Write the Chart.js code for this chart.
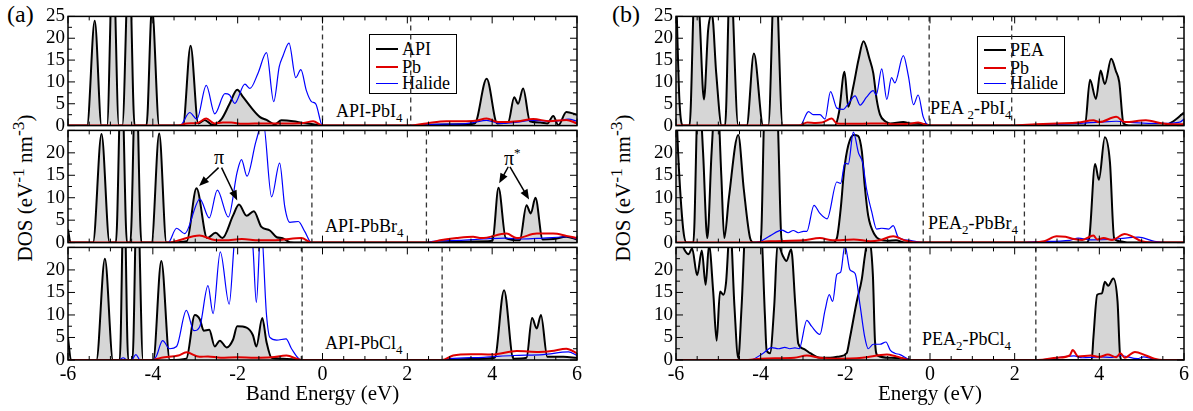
<!DOCTYPE html>
<html>
<head>
<meta charset="utf-8">
<script src="https://cdn.jsdelivr.net/npm/chart.js@4.4.0/dist/chart.umd.min.js"></script>
<style>
  body { margin: 0; background: #fff; }
  #fig { position: relative; width: 1193px; height: 411px; overflow: hidden; background: #fff;
         font-family: 'Liberation Serif', 'Times New Roman', serif; color: #000; }
  #fig canvas { position: absolute; }
  .txt { position: absolute; line-height: 1; white-space: nowrap; }
  .txt sub { font-size: 72%; vertical-align: -0.35em; line-height: 0; }
  .txt sup { font-size: 65%; vertical-align: 0.6em; line-height: 0; }
  .ytitle { position: absolute; white-space: nowrap; line-height: 1; font-size: 21px;
            transform: translate(-50%, -50%) rotate(-90deg); }
  .legend { position: absolute; border: 1px solid #000; background: #fff; box-sizing: border-box; }
  .legend .sw { position: absolute; left: 6px; width: 22px; }
  .legend .lt { position: absolute; left: 32px; font-size: 18px; line-height: 1; }
</style>
</head>
<body>
<div id="fig">
  <div class="txt" style="left:7px;top:2px;font-size:24px">(a)</div>
  <div class="txt" style="left:612px;top:2px;font-size:24px">(b)</div>
  <div class="ytitle" style="left:23px;top:188px">DOS (eV<sup>-1</sup> nm<sup>-3</sup>)</div>
  <div class="ytitle" style="left:621px;top:188px">DOS (eV<sup>-1</sup> nm<sup>-3</sup>)</div>

  <div class="txt" style="left:336px;top:102px;font-size:18px">API-PbI<sub>4</sub></div>
  <div class="txt" style="left:325px;top:217px;font-size:18px">API-PbBr<sub>4</sub></div>
  <div class="txt" style="left:325px;top:334px;font-size:18px">API-PbCl<sub>4</sub></div>
  <div class="txt" style="left:930px;top:99px;font-size:18px">PEA <sub>2</sub>-PbI<sub>4</sub></div>
  <div class="txt" style="left:928px;top:214px;font-size:18px">PEA<sub>2</sub>-PbBr<sub>4</sub></div>
  <div class="txt" style="left:922px;top:330px;font-size:18px">PEA<sub>2</sub>-PbCl<sub>4</sub></div>

  <div class="txt" style="left:214px;top:147px;font-size:20px">&pi;</div>
  <div class="txt" style="left:504px;top:148px;font-size:20px">&pi;<sup>*</sup></div>

  <div class="legend" style="left:369px;top:34px;width:88px;height:60px">
    <div class="sw" style="top:13px;border-top:2.5px solid #000"></div><div class="lt" style="top:5px">API</div>
    <div class="sw" style="top:31px;border-top:2.5px solid #e00000"></div><div class="lt" style="top:23px">Pb</div>
    <div class="sw" style="top:48px;border-top:1.5px solid #0000ff"></div><div class="lt" style="top:39px">Halide</div>
  </div>
  <div class="legend" style="left:977px;top:36px;width:88px;height:58px">
    <div class="sw" style="top:12px;border-top:2.5px solid #000"></div><div class="lt" style="top:4px">PEA</div>
    <div class="sw" style="top:30px;border-top:2.5px solid #e00000"></div><div class="lt" style="top:22px">Pb</div>
    <div class="sw" style="top:46px;border-top:1.5px solid #0000ff"></div><div class="lt" style="top:37px">Halide</div>
  </div>
</div>

<script>
// axis ranges and tick steps
const energyRange = [-6, 6];
const dosRange = [0, 25];
const energyStep = 2, energyMinor = 0.5;
const dosStep = 5, dosMinor = 2.5;

// ---------- (a) API-PbI4 ----------
const aI_org = [[-6,0],[-5.55,0],[-5.37,24],[-5.21,0],[-5.08,0],[-4.94,40],[-4.80,0],[-4.72,0],[-4.56,40],[-4.43,0],
  [-4.15,0],[-4.02,27],[-3.85,0],[-3.29,0],[-3.11,18.3],[-2.93,0.5],[-2.78,1.3],[-2.6,0.2],[-2.38,1.5],[-2.19,5],
  [-2.01,8.2],[-1.87,6.5],[-1.67,4],[-1.48,2],[-1.32,1.3],[-1.12,0.3],[-0.97,1.2],[-0.69,1.0],[-0.46,0.6],[-0.22,0.3],
  [0,0],[2.1,0],[2.6,0.2],[3.2,0.3],[3.59,0.5],[3.87,10.7],[4.12,0.5],[4.38,0.8],[4.52,6.5],[4.61,5],[4.73,8.5],
  [4.89,1.0],[5.13,0.7],[5.3,0.5],[5.44,2.2],[5.56,0.1],[5.75,3.1],[6,2.5]];
const aI_pb = [[-6,0],[-3.4,0],[-3.2,0.5],[-2.95,0.6],[-2.74,1.6],[-2.55,0.5],[-2.35,0.7],[-2.15,0.7],[-1.9,0.4],
  [-1.6,0.5],[-1.2,0.5],[-0.8,0.5],[-0.45,0.6],[-0.22,1.0],[0,0],[2.06,0],[2.45,0.5],[2.92,1.0],[3.3,1.0],[3.6,1.1],
  [3.87,1.6],[4.15,0.8],[4.6,1.0],[4.97,1.5],[5.35,1.0],[5.75,1.3],[6,0.5]];
const aI_hal = [[-6,0],[-3.36,0],[-3.13,3.0],[-2.96,1.5],[-2.74,9.2],[-2.54,2.7],[-2.30,7.3],[-2.19,7],[-2.07,5.1],
  [-1.83,9.5],[-1.71,8.5],[-1.52,12],[-1.32,16.7],[-1.15,5.5],[-1.02,13.5],[-0.93,16],[-0.79,18.9],[-0.63,11],
  [-0.51,12.8],[-0.38,8],[-0.26,5.5],[-0.16,5],[0,0],[2.06,0],[2.6,0.3],[3.3,0.4],[3.55,0.7],[3.87,1.2],[4.2,0.5],
  [4.6,0.8],[4.9,1.2],[5.5,1.0],[5.8,1.5],[6,1.0]];
const aI_gaps = [0, 2.08];

// ---------- (a) API-PbBr4 ----------
const aBr_org = [[-6,3],[-5.94,0],[-5.41,0],[-5.21,24.2],[-5.02,0],[-4.87,0],[-4.74,40],[-4.61,0],[-4.53,0],[-4.40,40],
  [-4.27,0],[-4.03,0],[-3.85,24.3],[-3.68,0],[-3.2,0.3],[-2.97,12.1],[-2.72,1],[-2.52,2.2],[-2.36,1],[-2.11,6],
  [-1.97,8.5],[-1.79,6],[-1.62,7],[-1.44,3.5],[-1.24,2.7],[-1.08,1.2],[-0.94,1],[-0.77,0.1],[-0.25,0],[2.45,0],
  [3.2,0.2],[3.9,0.3],[4.01,0.5],[4.15,12.2],[4.32,1],[4.65,0.5],[4.81,8.3],[4.91,6.5],[5.02,10],[5.19,0.7],
  [5.44,0.8],[5.75,1.3],[6,0.7]];
const aBr_pb = [[-6,0],[-3.6,0],[-3.4,0.5],[-2.9,1.6],[-2.6,0.7],[-2.3,0.5],[-1.9,0.8],[-1.5,0.5],[-1.0,0.6],
  [-0.5,1.0],[-0.25,0],[2.49,0],[2.77,0.5],[3.16,1.0],[3.55,1.3],[3.75,1.0],[4.34,2.0],[4.58,1.0],[5.05,2.0],
  [5.44,2.0],[5.75,1.5],[6,1.0]];
const aBr_hal = [[-6,0],[-3.64,0],[-3.44,3.2],[-3.25,2],[-2.89,9.7],[-2.67,5.5],[-2.48,11.7],[-2.22,5.7],[-2.01,15.8],
  [-1.91,18.5],[-1.78,14.8],[-1.57,22.5],[-1.40,27],[-1.2,10.2],[-1.01,17.7],[-0.89,8],[-0.77,4.5],[-0.57,4.7],
  [-0.42,2.5],[-0.26,0],[2.45,0],[2.6,0.3],[3.2,0.5],[3.8,0.8],[4.3,1.0],[4.7,0.8],[5.2,1.0],[5.8,1.3],[6,0.8]];
const aBr_gaps = [-0.25, 2.45];
// pi / pi* arrows: [E start, DOS start, E tip, DOS tip]
const aBr_arrows = [[-2.45,16.7,-2.91,12.6],[-2.38,16.7,-2.01,9.4],[4.38,16.9,4.165,13.2],[4.42,16.9,4.87,9.6]];

// ---------- (a) API-PbCl4 ----------
const aCl_org = [[-6,5],[-5.93,0],[-5.33,0],[-5.13,22.5],[-4.94,0],[-4.78,0],[-4.68,40],[-4.58,0],[-4.48,0],[-4.37,40],
  [-4.23,0],[-3.99,0],[-3.80,22],[-3.6,0],[-3.21,0.3],[-3.01,10],[-2.89,9],[-2.80,6.5],[-2.67,6.7],[-2.54,3],
  [-2.42,4.3],[-2.26,2.8],[-2.11,4.5],[-2.01,7.5],[-1.79,7.2],[-1.64,5.5],[-1.56,3],[-1.42,9.3],[-1.32,4],[-1.2,0.5],
  [-0.93,0.3],[-0.5,0],[2.82,0],[3.5,0.2],[4.06,0.5],[4.28,15.5],[4.5,0.3],[4.81,0.5],[4.94,9.3],[5.05,7],[5.15,10],
  [5.30,0.7],[5.68,0.7],[6,0.5]];
const aCl_pb = [[-6,0],[-4.0,0],[-3.8,0.5],[-3.4,1.0],[-3.21,1.7],[-2.9,0.7],[-2.7,0.8],[-2.4,0.5],[-2.0,0.6],
  [-1.6,0.5],[-1.2,0.6],[-0.85,1.0],[-0.5,0],[2.82,0],[3.08,1.0],[3.5,1.3],[4.0,1.2],[4.58,2.0],[5.1,1.8],[5.4,2.0],
  [5.75,2.5],[6,1.5]];
const aCl_hal = [[-6,0],[-4.8,0],[-4.7,0.5],[-4.6,0],[-4.5,0],[-4.4,1.2],[-4.3,0],[-3.99,0],[-3.91,1],[-3.77,4.3],
  [-3.60,2.5],[-3.44,3],[-3.21,11],[-3.03,6.5],[-2.89,7.5],[-2.70,16.5],[-2.58,10.3],[-2.41,24],[-2.20,12.4],
  [-2.07,27],[-1.91,32],[-1.72,30],[-1.64,25],[-1.56,12.8],[-1.45,30],[-1.32,10],[-1.24,5],[-1.08,4.4],[-0.86,4.7],
  [-0.73,2.5],[-0.5,0],[2.82,0],[3.0,0.3],[3.8,0.6],[4.5,1.0],[5.2,1.2],[5.8,1.8],[6,1.0]];
const aCl_gaps = [-0.48, 2.82];

// ---------- (b) PEA2-PbI4 ----------
const bI_org = [[-6,32],[-5.92,6],[-5.83,0],[-5.68,0],[-5.55,34],[-5.45,26],[-5.34,6],[-5.24,22],[-5.15,25.5],
  [-5.05,12],[-4.92,0],[-4.84,0],[-4.72,36],[-4.53,0],[-4.33,0],[-4.16,16.5],[-3.94,0],[-3.82,0],[-3.66,38],[-3.48,0],
  [-2.25,0],[-2.15,3],[-2.02,12.3],[-1.93,4.3],[-1.81,9],[-1.69,15],[-1.57,19.3],[-1.43,15.3],[-1.34,12],[-1.26,6],
  [-1.18,2.5],[-1.06,1],[-0.94,0.5],[-0.63,0.8],[-0.47,0.5],[-0.1,0.3],[0,0],[1.93,0],[3.66,0],[3.78,10.5],
  [3.92,6.1],[4.03,12.6],[4.13,9.5],[4.28,15.3],[4.39,12.5],[4.47,10],[4.57,0.5],[4.7,0],[5.5,0],[5.75,1],[6,3]];
const bI_pb = [[-6,0],[-3.1,0],[-2.9,0.7],[-2.7,0.6],[-2.55,0.7],[-2.32,1.6],[-2.2,0.5],[-1.8,0.4],[-1.4,0.5],
  [-1.1,0.5],[-0.9,0.3],[-0.5,0.4],[-0.28,0.7],[0,0],[1.95,0],[2.5,0.3],[3.0,0.5],[3.5,0.7],[3.86,1.2],[4.0,0.8],
  [4.4,2.0],[4.6,0.8],[5.1,1.2],[5.5,0.5],[5.9,0.3],[6,0.3]];
const bI_hal = [[-6,0],[-3.07,0],[-2.87,3.2],[-2.76,2.5],[-2.6,2.5],[-2.48,1.5],[-2.35,7.8],[-2.2,4],[-2.05,3.7],
  [-1.93,5],[-1.77,6.8],[-1.65,4.7],[-1.5,6.5],[-1.34,8],[-1.27,7],[-1.14,13],[-1.02,6],[-0.91,11],[-0.83,9.8],
  [-0.63,16],[-0.51,11.3],[-0.39,4.8],[-0.28,7],[-0.16,2],[-0.02,0],[1.93,0],[2.5,0.2],[3.5,0.5],[4.0,0.8],
  [4.4,1.0],[4.8,0.7],[5.5,0.5],[5.9,0.8],[6,1.5]];
const bI_gaps = [-0.02, 1.93];

// ---------- (b) PEA2-PbBr4 ----------
const bBr_org = [[-6,32],[-5.95,20],[-5.83,3],[-5.75,0],[-5.59,0],[-5.47,36],[-5.36,20],[-5.26,1],[-5.16,20],
  [-5.04,36],[-4.93,15],[-4.86,1],[-4.75,10],[-4.53,24],[-4.4,12],[-4.25,1],[-4.17,0],[-4.0,0],[-3.9,32],[-3.75,34],
  [-3.62,32],[-3.5,0],[-2.3,0],[-2.2,1],[-2.11,7.5],[-2.03,16],[-1.93,21.7],[-1.8,24],[-1.7,23.8],[-1.61,20.3],
  [-1.54,12.5],[-1.46,6],[-1.31,1.8],[-1.19,0.7],[-1.0,0.4],[-0.8,0.5],[-0.6,0],[2.23,0],[3.69,0],[3.76,1],
  [3.9,17.5],[3.99,14],[4.13,23.5],[4.25,18],[4.35,1],[4.49,0.3],[4.7,0],[6,0]];
const bBr_pb = [[-6,0],[-4.2,0],[-3.8,0.3],[-3.0,0.5],[-2.6,1.0],[-2.3,0.5],[-1.8,0.7],[-1.4,0.3],[-1.2,0.5],
  [-0.87,1.4],[-0.6,0.5],[-0.2,0],[2.3,0],[2.7,0.3],[2.99,1.4],[3.2,1.3],[3.4,0.8],[3.6,0.6],[3.86,1.6],[3.95,0.7],
  [4.1,1.0],[4.3,0.6],[4.6,1.9],[4.75,1.5],[5.0,0.3],[5.3,0],[6,0]];
const bBr_hal = [[-6,0],[-4.25,0],[-4.0,0.3],[-3.78,1.5],[-3.5,2.8],[-3.35,2.2],[-3.23,2.7],[-3.11,2.2],[-2.99,2.5],
  [-2.91,2.5],[-2.74,8.3],[-2.6,6.5],[-2.43,5.3],[-2.2,13.5],[-2.11,13.2],[-2.01,17.7],[-1.93,17.5],[-1.81,24.6],
  [-1.69,20],[-1.59,17.8],[-1.5,12],[-1.38,7],[-1.26,3],[-1.14,3.2],[-0.98,3],[-0.87,3.8],[-0.75,1.2],[-0.47,0.5],
  [-0.17,0],[2.23,0],[2.5,0.2],[3.3,0.5],[3.5,1.0],[3.8,0.6],[4.4,0.8],[4.92,1.2],[5.3,0.3],[5.6,0],[6,0]];
const bBr_gaps = [-0.16, 2.23];

// ---------- (b) PEA2-PbCl4 ----------
const bCl_org = [[-6,32],[-5.9,27],[-5.8,24.5],[-5.7,23.5],[-5.62,24.8],[-5.5,18.8],[-5.39,24.3],[-5.3,16.7],
  [-5.22,25.5],[-5.12,15],[-5.04,4.3],[-4.96,15.2],[-4.88,14.5],[-4.82,17],[-4.72,30],[-4.62,12],[-4.53,0.4],
  [-4.45,12],[-4.35,30],[-4.0,30],[-3.9,10],[-3.86,2.2],[-3.78,1.5],[-3.68,12],[-3.6,26],[-3.48,23.2],[-3.39,22],
  [-3.28,24.6],[-3.18,12],[-3.11,3.6],[-2.99,2.5],[-2.83,1.5],[-2.6,0.5],[-2.36,0.5],[-2.13,0.8],[-1.97,1.5],
  [-1.89,5],[-1.73,13],[-1.61,18],[-1.54,23],[-1.46,27],[-1.35,19],[-1.3,4.3],[-1.24,1],[-0.94,0.5],[-0.6,0.3],
  [-0.47,0],[2.5,0],[3.82,0],[3.86,5],[3.95,14.5],[4.06,14.8],[4.13,17.4],[4.21,16.5],[4.33,18.1],[4.43,13],
  [4.49,1],[4.53,0],[6,0]];
const bCl_pb = [[-6,0],[-4.3,0],[-4.0,0.3],[-3.2,0.5],[-2.91,1.0],[-2.6,0.5],[-2.2,0.3],[-1.6,0.5],[-1.02,1.2],
  [-0.8,0.8],[-0.47,0],[2.55,0],[3.0,0.5],[3.3,1.0],[3.37,2.2],[3.5,0.8],[3.8,1.0],[4.0,0.7],[4.2,1.2],[4.4,0.6],
  [4.5,1.5],[4.6,0.5],[4.84,1.8],[5.1,1.0],[5.3,0.3],[5.5,0],[6,0]];
const bCl_hal = [[-6,0],[-4.25,0],[-3.94,1.5],[-3.74,2.75],[-3.58,2.5],[-3.43,2.8],[-3.31,2.5],[-3.19,2.7],
  [-3.09,2.5],[-2.91,8.8],[-2.8,7.5],[-2.6,5.7],[-2.48,11],[-2.38,14.5],[-2.3,13],[-2.2,19],[-2.11,19.5],
  [-2.01,25.4],[-1.89,20],[-1.77,19.2],[-1.65,12],[-1.54,5],[-1.46,2.5],[-1.34,3.5],[-1.18,3.5],[-1.04,4],
  [-0.94,2.2],[-0.83,1.5],[-0.71,1.2],[-0.47,0.1],[2.5,0],[2.8,0.2],[3.4,0.9],[3.6,0.5],[4.0,0.7],[4.3,0.6],
  [4.5,1.0],[4.9,0.3],[5.05,0.7],[5.4,0],[6,0]];
const bCl_gaps = [-0.47, 2.5];

Chart.defaults.font.family = "'Liberation Serif', 'Times New Roman', serif";
Chart.defaults.color = '#000';

// frame, inward ticks, dashed band edges and arrows
const framePlugin = {
  id: 'frame',
  afterDatasetsDraw(chart, args, opts) {
    const { ctx, chartArea: a } = chart;
    const x = chart.scales.x, y = chart.scales.y;
    ctx.save();

    ctx.strokeStyle = '#333';
    ctx.lineWidth = 1.3;
    ctx.setLineDash([5, 4]);
    (opts.gaps || []).forEach(e => {
      const px = x.getPixelForValue(e);
      ctx.beginPath();
      ctx.moveTo(px, a.top);
      ctx.lineTo(px, a.bottom);
      ctx.stroke();
    });
    ctx.setLineDash([]);

    ctx.strokeStyle = '#000';
    ctx.lineWidth = 1;
    ctx.beginPath();
    for (let v = energyRange[0]; v <= energyRange[1] + 1e-9; v += energyMinor) {
      const px = x.getPixelForValue(v);
      const len = Math.abs(v % energyStep) < 1e-9 ? 7 : 4;
      ctx.moveTo(px, a.bottom); ctx.lineTo(px, a.bottom - len);
      ctx.moveTo(px, a.top); ctx.lineTo(px, a.top + len);
    }
    for (let v = dosRange[0]; v <= dosRange[1] + 1e-9; v += dosMinor) {
      const py = y.getPixelForValue(v);
      const len = Math.abs(v % dosStep) < 1e-9 ? 7 : 4;
      ctx.moveTo(a.left, py); ctx.lineTo(a.left + len, py);
      ctx.moveTo(a.right, py); ctx.lineTo(a.right - len, py);
    }
    ctx.stroke();

    ctx.fillStyle = '#000';
    ctx.lineWidth = 1.5;
    (opts.arrows || []).forEach(ar => {
      const x0 = x.getPixelForValue(ar[0]), y0 = y.getPixelForValue(ar[1]);
      const x1 = x.getPixelForValue(ar[2]), y1 = y.getPixelForValue(ar[3]);
      const ang = Math.atan2(y1 - y0, x1 - x0);
      const c = Math.cos(ang), s = Math.sin(ang);
      ctx.beginPath();
      ctx.moveTo(x0, y0);
      ctx.lineTo(x1 - 6 * c, y1 - 6 * s);
      ctx.stroke();
      ctx.beginPath();
      ctx.moveTo(x1, y1);
      ctx.lineTo(x1 - 10 * c + 4 * s, y1 - 10 * s - 4 * c);
      ctx.lineTo(x1 - 10 * c - 4 * s, y1 - 10 * s + 4 * c);
      ctx.closePath();
      ctx.fill();
    });

    ctx.lineWidth = 1.5;
    ctx.strokeRect(a.left, a.top, a.right - a.left, a.bottom - a.top);
    ctx.restore();
  }
};

function makeSubplot(p) {
  const cv = document.createElement('canvas');
  cv.width = p.w; cv.height = p.h;
  cv.style.left = p.left + 'px';
  cv.style.top = p.top + 'px';
  cv.style.width = p.w + 'px';
  cv.style.height = p.h + 'px';
  document.getElementById('fig').appendChild(cv);

  return new Chart(cv, {
    type: 'line',
    data: {
      datasets: [
        { label: 'Pb', data: p.pb, borderColor: '#e00000', borderWidth: 2, clip: 0 },
        { label: 'Halide', data: p.hal, borderColor: '#0000ff', borderWidth: 1.2, clip: 0 },
        { label: p.name, data: p.org, borderColor: '#000', borderWidth: 2, clip: 0,
          fill: 'origin', backgroundColor: '#d6d6d6' }
      ]
    },
    options: {
      responsive: false,
      animation: false,
      devicePixelRatio: 1,
      elements: {
        point: { radius: 0 },
        line: { tension: 0.4, cubicInterpolationMode: 'monotone' }
      },
      layout: { padding: { top: 12, bottom: p.bottom ? 0 : 12, left: 0, right: p.pr } },
      plugins: {
        legend: { display: false },
        tooltip: { enabled: false },
        frame: { gaps: p.gaps, arrows: p.arrows || [] }
      },
      scales: {
        x: {
          type: 'linear', min: energyRange[0], max: energyRange[1],
          display: p.bottom,
          grid: { display: false, drawTicks: false },
          border: { display: false },
          ticks: { stepSize: energyStep, font: { size: 20 }, padding: 3, autoSkip: false, maxRotation: 0 },
          title: { display: p.bottom, text: p.xTitle, font: { size: 21 }, padding: { top: 0, bottom: 4 } },
          afterFit: s => { s.height = p.bottom ? 51 : 0; }
        },
        y: {
          type: 'linear', min: dosRange[0], max: dosRange[1],
          grid: { display: false, drawTicks: false },
          border: { display: false },
          ticks: {
            stepSize: dosStep, font: { size: 19 }, padding: 3, autoSkip: false,
            callback: v => (v === dosRange[1] && !p.first) ? '' : v
          },
          afterFit: s => { s.width = p.yw; }
        }
      }
    },
    plugins: [framePlugin]
  });
}

const panelA = { left: 0, w: 590, yw: 68, pr: 13, name: 'API', xTitle: 'Band Energy (eV)' };
const panelB = { left: 590, w: 603, yw: 86, pr: 9, name: 'PEA', xTitle: 'Energy (eV)' };
const rows = [
  { top: 2, h: 138, first: true, bottom: false },
  { top: 116, h: 141, first: false, bottom: false },
  { top: 233, h: 178, first: false, bottom: true }
];

makeSubplot({ ...panelA, ...rows[0], org: aI_org, pb: aI_pb, hal: aI_hal, gaps: aI_gaps });
makeSubplot({ ...panelA, ...rows[1], org: aBr_org, pb: aBr_pb, hal: aBr_hal, gaps: aBr_gaps, arrows: aBr_arrows });
makeSubplot({ ...panelA, ...rows[2], org: aCl_org, pb: aCl_pb, hal: aCl_hal, gaps: aCl_gaps });
makeSubplot({ ...panelB, ...rows[0], org: bI_org, pb: bI_pb, hal: bI_hal, gaps: bI_gaps });
makeSubplot({ ...panelB, ...rows[1], org: bBr_org, pb: bBr_pb, hal: bBr_hal, gaps: bBr_gaps });
makeSubplot({ ...panelB, ...rows[2], org: bCl_org, pb: bCl_pb, hal: bCl_hal, gaps: bCl_gaps });
</script>
</body>
</html>
